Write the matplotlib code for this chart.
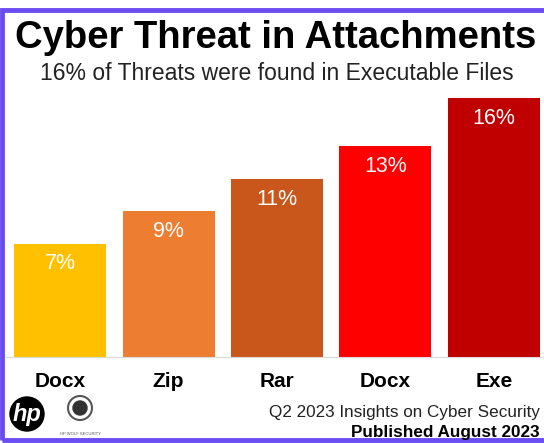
import matplotlib.pyplot as plt
from matplotlib.patches import Rectangle, Circle

plt.rcParams['font.family'] = ['Liberation Sans', 'DejaVu Sans']

# Dados do gráfico
categorias = ['Docx', 'Zip', 'Rar', 'Docx', 'Exe']
valores = [7, 9, 11, 13, 16]
cores = ['#FFC000', '#ED7D31', '#C9561A', '#FF0000', '#C00000']

W, H = 544, 443
fig = plt.figure(figsize=(W / 100, H / 100), dpi=100)
fig.patch.set_facecolor('white')

# Moldura roxa
fig.patches.append(Rectangle((2 / W, 3 / H), 1.2, (H - 13) / H, transform=fig.transFigure,
                             fill=False, edgecolor='#6A4CF2', linewidth=3.5))

# Eixo principal
ax = fig.add_axes([6 / W, (H - 357) / H, 542 / W, 277 / H])
x = range(len(categorias))
bars = ax.bar(x, valores, width=0.85, color=cores)
ax.set_xlim(-0.5, 4.5)
ax.set_ylim(0, 17.1)
for s in ['top', 'right', 'left']:
    ax.spines[s].set_visible(False)
ax.spines['bottom'].set_color('#D9D9D9')
ax.set_yticks([])
ax.set_xticks(list(x))
ax.set_xticklabels(categorias, fontsize=15, fontweight='bold')
ax.tick_params(axis='x', length=0, pad=11)

for b, v in zip(bars, valores):
    ax.annotate(f'{v}%', (b.get_x() + b.get_width() / 2, v), xytext=(0, -7),
                textcoords='offset points', ha='center', va='top',
                color='white', fontsize=15.5)

# Títulos
fig.text(276 / W, 1 - 38 / H, 'Cyber Threat in Attachments', ha='center', va='center',
         fontsize=27.5, fontweight='bold')
fig.text(277 / W, 1 - 74 / H, '16% of Threats were found in Executable Files', ha='center',
         va='center', fontsize=16.5, color='#222222')

# Rodapé
fig.text(540 / W, 1 - 413 / H, 'Q2 2023 Insights on Cyber Security', ha='right',
         va='center', fontsize=12.3, color='#222222')
fig.text(540 / W, 1 - 432 / H, 'Published August 2023', ha='right', va='center',
         fontsize=12.3, fontweight='bold')

# Logos simplificados
lax = fig.add_axes([0, 0, 1, 1], facecolor='none')
lax.set_xlim(0, W)
lax.set_ylim(H, 0)
lax.axis('off')
lax.add_patch(Circle((27, 414), 17, color='black'))
lax.text(27, 414, 'hp', color='white', fontsize=17, fontweight='bold', style='italic',
         ha='center', va='center')
lax.add_patch(Circle((80, 408), 12, facecolor='white', edgecolor='#555555', linewidth=1.5))
lax.add_patch(Circle((80, 408), 7, color='#333333'))
lax.text(80, 434, 'HP WOLF SECURITY', fontsize=3, ha='center', va='center', color='#555555')

fig.savefig('out.png', dpi=100)
